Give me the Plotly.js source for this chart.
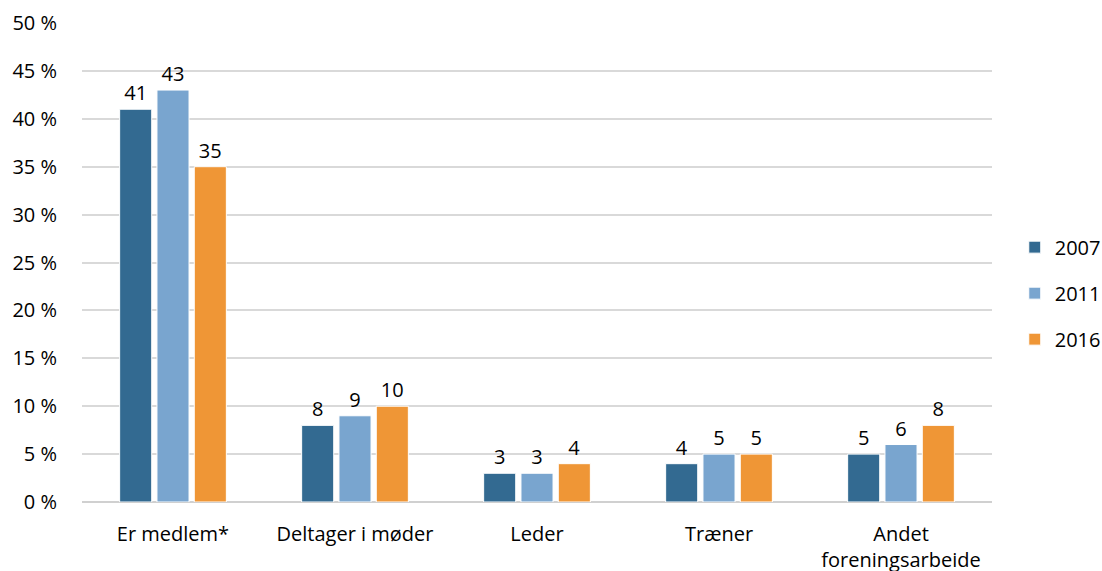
<!DOCTYPE html>
<html>
<head>
<meta charset="utf-8">
<script src="https://cdn.plot.ly/plotly-3.0.1.min.js"></script>
<style>
  html, body { margin: 0; padding: 0; background: #fff; }
  #chart { width: 1102px; height: 571px; }
</style>
</head>
<body>
<div id="chart"></div>
<script>
// Kategorier og værdier (procent)
const categories = ['Er medlem*', 'Deltager i møder', 'Leder', 'Træner', 'Andet<br>foreningsarbeide'];
const years = ['2007', '2011', '2016'];
const values2007 = [41, 8, 3, 4, 5];
const values2011 = [43, 9, 3, 5, 6];
const values2016 = [35, 10, 4, 5, 8];
const yTicks = [0, 5, 10, 15, 20, 25, 30, 35, 40, 45, 50];

const colors = ['#336a91', '#79a5cf', '#ef9636'];
const series = [values2007, values2011, values2016];
const FONT = '"Open Sans", "Noto Sans", sans-serif';

const traces = series.map((vals, i) => ({
  x: categories,
  y: vals,
  type: 'bar',
  name: years[i],
  legendgroup: years[i],
  text: vals.map(String),
  textposition: 'outside',
  cliponaxis: false,
  textfont: { size: 20, color: '#000', family: FONT },
  marker: { color: colors[i], line: { color: '#ffffff', width: 1 } },
  hoverinfo: 'x+y'
}));

const layout = {
  width: 1102,
  height: 571,
  margin: { t: 23, b: 69, l: 82, r: 110, autoexpand: false },
  barmode: 'group',
  bargap: 0.385,
  bargroupgap: 0.14,
  font: { family: FONT, size: 20, color: '#000' },
  showlegend: true,
  legend: {
    x: 1.025,
    y: 0.436,
    yanchor: 'middle',
    xanchor: 'left',
    traceorder: 'grouped',
    tracegroupgap: 17,
    font: { size: 20, family: FONT },
    itemwidth: 30
  },
  xaxis: {
    type: 'category',
    showgrid: false,
    showline: false,
    ticks: 'outside',
    ticklen: 14,
    tickcolor: 'rgba(0,0,0,0)',
    tickfont: { size: 20, family: FONT }
  },
  yaxis: {
    range: [0, 50],
    tickvals: yTicks,
    ticktext: yTicks.map(v => v + ' %'),
    gridcolor: '#d9d9d9',
    gridwidth: 1.5,
    zeroline: true,
    zerolinecolor: '#d0d0d0',
    zerolinewidth: 2,
    showline: false,
    ticks: 'outside',
    ticklen: 20,
    tickcolor: 'rgba(0,0,0,0)',
    tickfont: { size: 20, family: FONT }
  },
  plot_bgcolor: '#ffffff',
  paper_bgcolor: '#ffffff'
};

Plotly.newPlot('chart', traces, layout, { displayModeBar: false, responsive: false });
</script>
</body>
</html>
